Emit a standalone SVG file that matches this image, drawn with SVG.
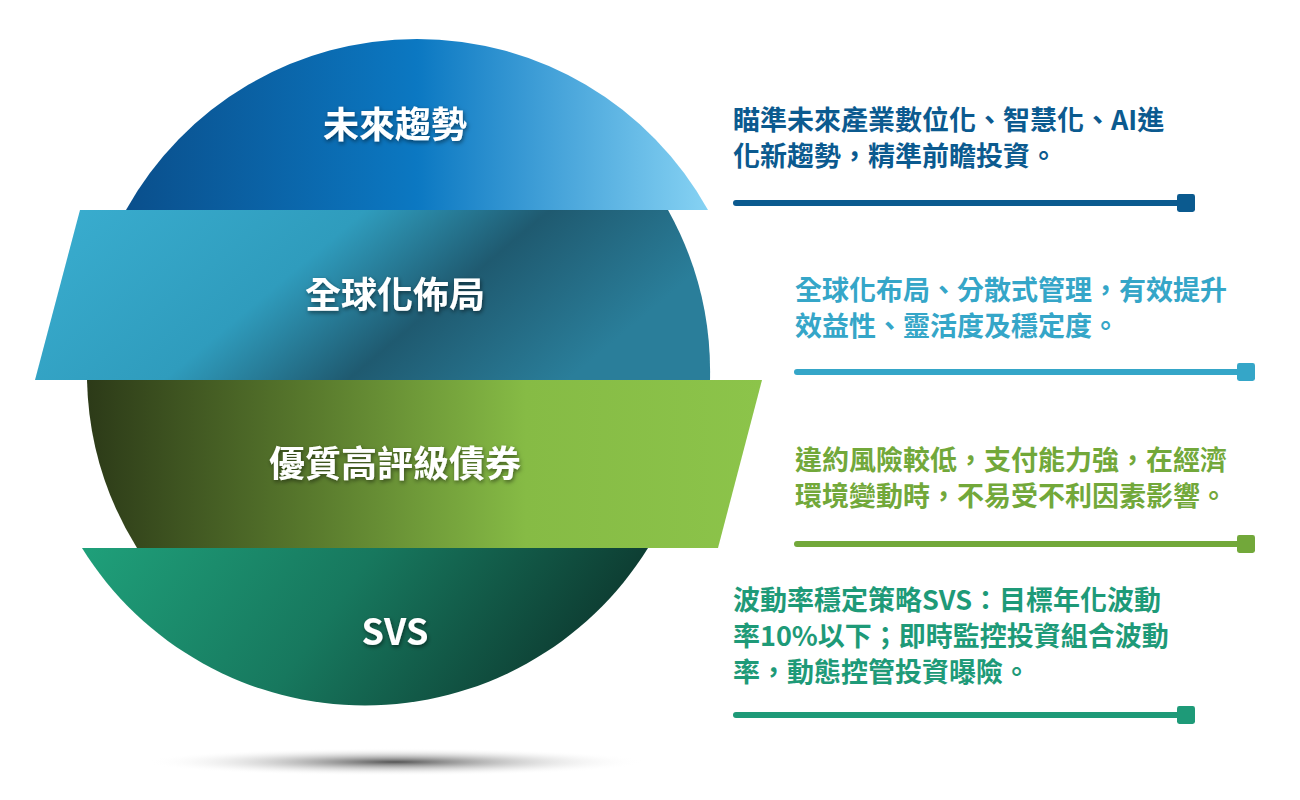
<svg xmlns="http://www.w3.org/2000/svg" width="1300" height="800" viewBox="0 0 1300 800">
<defs>
<linearGradient id="g1" x1="0" y1="0" x2="1" y2="0"><stop offset="0" stop-color="#0a4f8c"/><stop offset="0.5" stop-color="#0b78c2"/><stop offset="1" stop-color="#86d2f3"/></linearGradient>
<linearGradient id="g2" x1="0" y1="0" x2="1" y2="0.3"><stop offset="0" stop-color="#3aaed0"/><stop offset="0.45" stop-color="#2f9cbd"/><stop offset="0.7" stop-color="#1f5a70"/><stop offset="1" stop-color="#2a7e9a"/></linearGradient>
<linearGradient id="g3" x1="0" y1="0" x2="1" y2="0"><stop offset="0" stop-color="#2c3a18"/><stop offset="0.35" stop-color="#5b7d2e"/><stop offset="0.65" stop-color="#86bb45"/><stop offset="1" stop-color="#8cc44a"/></linearGradient>
<linearGradient id="g4" x1="0" y1="0" x2="1" y2="0.2"><stop offset="0" stop-color="#1fa07a"/><stop offset="0.5" stop-color="#17785e"/><stop offset="1" stop-color="#0d3a30"/></linearGradient>
<radialGradient id="sh"><stop offset="0" stop-color="#555"/><stop offset="1" stop-color="#fff" stop-opacity="0"/></radialGradient>
<filter id="ts"><feDropShadow dx="1" dy="2" stdDeviation="2" flood-color="#000" flood-opacity="0.5"/></filter>
<marker id="sq1" markerWidth="3" markerHeight="3" refX="1.5" refY="1.5" markerUnits="strokeWidth"><rect width="3" height="3" rx="0.4" fill="#0b5a8f"/></marker>
<marker id="sq2" markerWidth="3" markerHeight="3" refX="1.5" refY="1.5" markerUnits="strokeWidth"><rect width="3" height="3" rx="0.4" fill="#35a6c8"/></marker>
<marker id="sq3" markerWidth="3" markerHeight="3" refX="1.5" refY="1.5" markerUnits="strokeWidth"><rect width="3" height="3" rx="0.4" fill="#72a83a"/></marker>
<marker id="sq4" markerWidth="3" markerHeight="3" refX="1.5" refY="1.5" markerUnits="strokeWidth"><rect width="3" height="3" rx="0.4" fill="#1e9a78"/></marker>
</defs>
<style>
.lab{font-family:"Noto Sans CJK TC","Liberation Sans",sans-serif;font-weight:bold;font-size:36px;fill:#fff;text-anchor:middle;filter:url(#ts)}
.d{font-family:"Noto Sans CJK TC","Liberation Sans",sans-serif;font-weight:bold;font-size:27px}
.ln{stroke-width:6;stroke-linecap:round}
</style>
<rect width="1300" height="800" fill="#fff"/>
<ellipse cx="395" cy="762" rx="250" ry="14" fill="url(#sh)"/>
<g id="band1"><path d="M126,210 A333,333 0 0 1 708,210 Z" fill="url(#g1)"/><text class="lab" x="395" y="138">未來趨勢</text></g>
<g id="band2"><path d="M80,210 L668,210 A333,333 0 0 1 710,380 L35,380 Z" fill="url(#g2)"/><text class="lab" x="395" y="308">全球化佈局</text></g>
<g id="band4"><path d="M82,548 L648,548 A333,333 0 0 1 82,548 Z" fill="url(#g4)"/><text class="lab" x="395" y="645">SVS</text></g>
<g id="band3"><path d="M87,380 L762,380 L718,548 L137,548 A333,333 0 0 1 87,380 Z" fill="url(#g3)"/><text class="lab" x="395" y="477">優質高評級債券</text></g>
<g id="connectors">
<line class="ln" x1="736" y1="203" x2="1186" y2="203" stroke="#0b5a8f" marker-end="url(#sq1)"/>
<line class="ln" x1="797" y1="372" x2="1246" y2="372" stroke="#35a6c8" marker-end="url(#sq2)"/>
<line class="ln" x1="797" y1="544" x2="1246" y2="544" stroke="#72a83a" marker-end="url(#sq3)"/>
<line class="ln" x1="736" y1="715" x2="1186" y2="715" stroke="#1e9a78" marker-end="url(#sq4)"/>
</g>
<g id="t1" class="d" fill="#0b5a8f"><text x="733" y="130">瞄準未來產業數位化、智慧化、AI進</text><text x="733" y="166">化新趨勢，精準前瞻投資。</text></g>
<g id="t2" class="d" fill="#35a6c8"><text x="795" y="300">全球化布局、分散式管理，有效提升</text><text x="795" y="336">效益性、靈活度及穩定度。</text></g>
<g id="t3" class="d" fill="#72a83a"><text x="795" y="470">違約風險較低，支付能力強，在經濟</text><text x="795" y="506">環境變動時，不易受不利因素影響。</text></g>
<g id="t4" class="d" fill="#1e9a78"><text x="733" y="610">波動率穩定策略SVS：目標年化波動</text><text x="733" y="646">率10%以下；即時監控投資組合波動</text><text x="733" y="682">率，動態控管投資曝險。</text></g>
</svg>
